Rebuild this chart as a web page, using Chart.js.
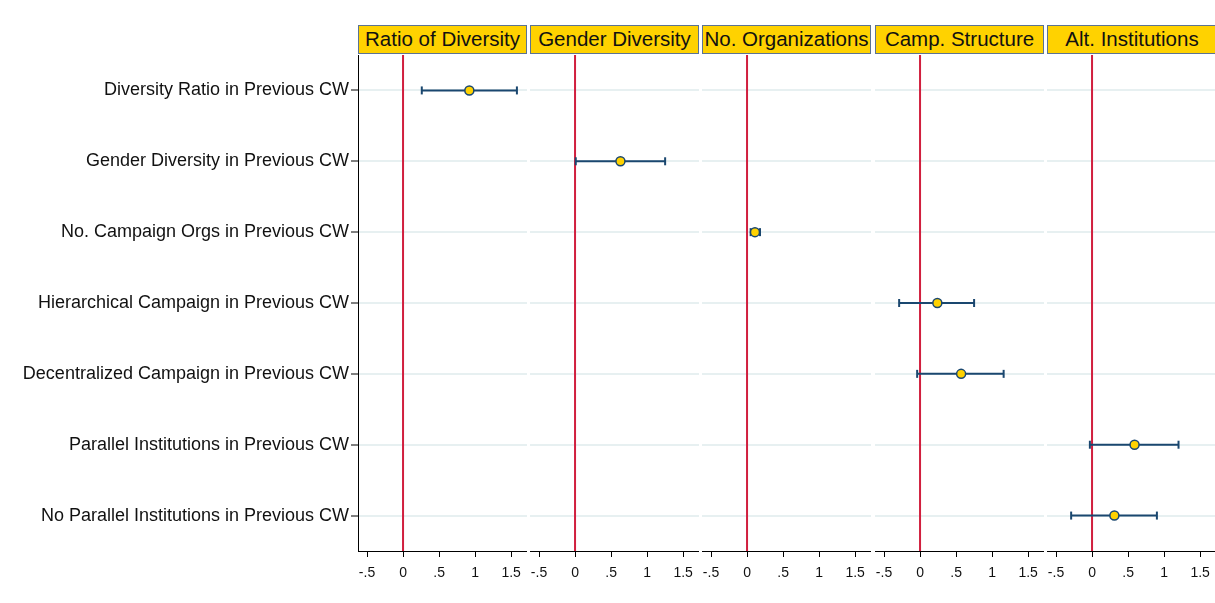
<!DOCTYPE html>
<html>
<head>
<meta charset="utf-8">
<script src="https://cdn.jsdelivr.net/npm/chart.js@4"></script>
<style>
  body { margin: 0; background: #fff; font-family: "Liberation Sans", Arial, sans-serif; }
  #wrap { position: relative; width: 1215px; height: 603px; overflow: hidden; }
  canvas { position: absolute; top: 55px; }
  .hdr {
    position: absolute; top: 25px; height: 29px; box-sizing: border-box;
    background: #ffd200; border: 1.5px solid #5b7393; color: #111;
    font-size: 20.5px; line-height: 26px; text-align: center; white-space: nowrap;
  }
</style>
</head>
<body>
<div id="wrap"></div>
<script>
const rowLabels = [
  "Diversity Ratio in Previous CW",
  "Gender Diversity in Previous CW",
  "No. Campaign Orgs in Previous CW",
  "Hierarchical Campaign in Previous CW",
  "Decentralized Campaign in Previous CW",
  "Parallel Institutions in Previous CW",
  "No Parallel Institutions in Previous CW"
];
const panelTitles = ["Ratio of Diversity", "Gender Diversity", "No. Organizations", "Camp. Structure", "Alt. Institutions"];
// which panel each row's estimate sits in
const rowPanel = [0, 1, 2, 3, 3, 4, 4];
const coef   = [0.92, 0.63, 0.11, 0.24, 0.57, 0.59, 0.31];
const ciLow  = [0.26, 0.01, 0.05, -0.29, -0.04, -0.03, -0.29];
const ciHigh = [1.58, 1.25, 0.18, 0.75, 1.16, 1.20, 0.90];
const xTicks = [-0.5, 0, 0.5, 1, 1.5];
const xTickText = ["-.5", "0", ".5", "1", "1.5"];

const panelLeft = [358, 530, 702, 875, 1047];
const panelWidth = 169;
const labelWidth = 358;

const navy = "#1a476f";
const gold = "#ffd200";
const red = "#d11f3e";
const FONT = "'Liberation Sans', Arial, sans-serif";

const wrap = document.getElementById("wrap");

// Chart.js reserves room for half-labels at the ends; the panels are fixed, so drop it
function noPad(s) {
  s.paddingLeft = s.paddingRight = s.paddingTop = s.paddingBottom = 0;
}

panelTitles.forEach((title, p) => {
  const h = document.createElement("div");
  h.className = "hdr";
  h.style.left = panelLeft[p] + "px";
  h.style.width = (p === 4 ? 1215 - panelLeft[p] + 2 : panelWidth) + "px";
  h.textContent = title;
  wrap.appendChild(h);

  const first = p === 0;
  const cv = document.createElement("canvas");
  const w = first ? labelWidth + panelWidth : panelWidth;
  cv.width = w; cv.height = 548;
  cv.style.left = (first ? 0 : panelLeft[p]) + "px";
  cv.style.width = w + "px"; cv.style.height = "548px";
  wrap.appendChild(cv);

  const datasets = [{
    data: [{ x: 0, y: -0.5 }, { x: 0, y: 6.5 }],
    showLine: true, borderColor: red, borderWidth: 2, pointRadius: 0, order: 3
  }];
  rowLabels.forEach((lab, r) => {
    if (rowPanel[r] !== p) return;
    datasets.push({
      data: [{ x: ciLow[r], y: r }, { x: ciHigh[r], y: r }],
      showLine: true, borderColor: navy, borderWidth: 2,
      pointStyle: "line", pointRotation: 90, pointRadius: 4,
      pointBorderColor: navy, pointBorderWidth: 2, order: 2
    });
    datasets.push({
      data: [{ x: coef[r], y: r }],
      pointRadius: 4.5, pointBackgroundColor: gold,
      pointBorderColor: navy, pointBorderWidth: 1.5, order: 1
    });
  });

  new Chart(cv, {
    type: "scatter",
    data: { datasets },
    options: {
      responsive: false,
      animation: false,
      layout: { padding: 0, autoPadding: false },
      plugins: { legend: { display: false }, tooltip: { enabled: false } },
      scales: {
        x: {
          min: -0.625, max: 1.72,
          afterBuildTicks: s => { s.ticks = xTicks.map(v => ({ value: v })); },
          afterFit: s => { s.height = 52; noPad(s); },
          grid: { display: true, drawOnChartArea: false, tickLength: 6, tickColor: "#000" },
          border: { color: "#000", width: 1 },
          ticks: {
            color: "#111", padding: 8,
            font: { family: FONT, size: 14 },
            callback: v => xTickText[xTicks.indexOf(v)]
          }
        },
        y: {
          reverse: true, min: -0.5, max: 6.5,
          afterBuildTicks: s => { s.ticks = rowLabels.map((_, i) => ({ value: i })); },
          afterFit: s => { s.width = first ? labelWidth : 0; noPad(s); },
          grid: { color: "#e7f0f1", lineWidth: 2, drawTicks: first, tickLength: 7, tickColor: "#000", tickWidth: 1 },
          border: { display: first, color: "#000", width: 1 },
          ticks: {
            display: first, color: "#111", padding: 2,
            font: { family: FONT, size: 18 },
            callback: v => rowLabels[v]
          }
        }
      }
    }
  });
});
</script>
</body>
</html>
